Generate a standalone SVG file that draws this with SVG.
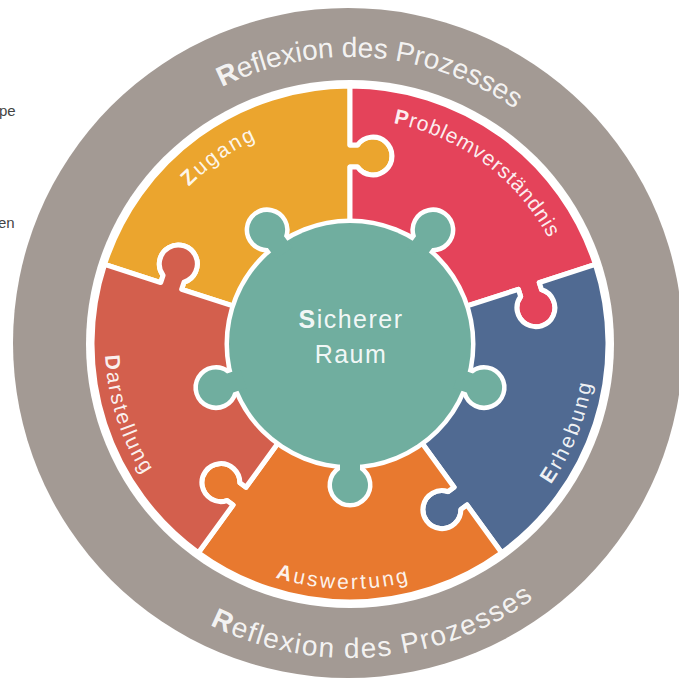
<svg xmlns="http://www.w3.org/2000/svg" xmlns:xlink="http://www.w3.org/1999/xlink" width="679" height="681" viewBox="0 0 679 681">
<style>
.piece{stroke:#fff;stroke-width:5;stroke-linejoin:round}
.lbl{font-family:"Liberation Sans",Arial,sans-serif;font-size:21px;fill:#fff;fill-opacity:0.92}
.refl{font-family:"Liberation Sans",Arial,sans-serif;font-size:28px;fill:#fff;fill-opacity:0.9}
.ctr{font-family:"Liberation Sans",Arial,sans-serif;font-size:25px;fill:#fff;fill-opacity:0.92;letter-spacing:1.5px}
.b{font-weight:bold}
.side{font-family:"Liberation Sans",Arial,sans-serif;font-size:15px;fill:#444}
</style>
<defs>
<path id="piece" d="M -151.65,-208.73 A 258 258 0 0 1 151.65,-208.73 L 116.97,-160.99 L 123.05,-156.58 A 19 19 0 1 1 110.12,-138.78 L 104.04,-143.20 L 67.60,-93.04 A 115 115 0 0 0 -67.60,-93.04 L -104.04,-143.20 L -97.96,-147.61 A 19 19 0 1 0 -110.89,-165.40 L -116.97,-160.99 Z"/>
<path id="tab" d="M -10,-112 L -10,-126.03 A 18 18 0 1 1 10,-126.03 L 10,-112 Z"/>
<path id="tR" d="M 63,344 A 287 287 0 0 1 637,344"/>
<path id="bR" d="M 36,344 A 314 314 0 0 0 664,344"/>
<path id="tL" d="M 125,344 A 225 225 0 0 1 575,344"/>
<path id="bL" d="M 119.78,260.21 A 245 245 0 1 0 580.22,260.21"/>
</defs>
<rect width="679" height="681" fill="#fff"/>
<g id="side-fragments">
<text class="side" x="-1" y="116">pe</text>
<text class="side" x="-2" y="228">en</text>
</g>
<g id="reflexion-ring">
<circle cx="348" cy="343" r="335" fill="#a39a94"/>
<circle cx="350" cy="344" r="264" fill="#fff"/>
<text class="refl"><textPath href="#tR" startOffset="472" text-anchor="middle"><tspan class="b">R</tspan>eflexion des Prozesses</textPath></text>
<text class="refl" letter-spacing="1.5"><textPath href="#bR" startOffset="519" text-anchor="middle"><tspan class="b">R</tspan>eflexion des Prozesses</textPath></text>
</g>
<g id="zugang">
<use href="#piece" class="piece" fill="#eba52e" transform="translate(350,344) rotate(-36)"/>
<text class="lbl" letter-spacing="2.2"><textPath href="#tL" startOffset="216" text-anchor="middle"><tspan class="b">Z</tspan>ugang</textPath></text>
</g>
<g id="problemverstaendnis">
<use href="#piece" class="piece" fill="#e4435a" transform="translate(350,344) rotate(36)"/>
<text class="lbl" letter-spacing="0.8"><textPath href="#tL" startOffset="497" text-anchor="middle"><tspan class="b">P</tspan>roblemverständnis</textPath></text>
</g>
<g id="erhebung">
<use href="#piece" class="piece" fill="#506a92" transform="translate(350,344) rotate(108)"/>
<text class="lbl" letter-spacing="2.6"><textPath href="#bL" startOffset="761" text-anchor="middle"><tspan class="b">E</tspan>rhebung</textPath></text>
</g>
<g id="auswertung">
<use href="#piece" class="piece" fill="#e8792f" transform="translate(350,344) rotate(180)"/>
<text class="lbl" letter-spacing="2.6"><textPath href="#bL" startOffset="463" text-anchor="middle"><tspan class="b">A</tspan>uswertung</textPath></text>
</g>
<g id="darstellung">
<use href="#piece" class="piece" fill="#d35f4d" transform="translate(350,344) rotate(252)"/>
<text class="lbl" letter-spacing="2"><textPath href="#bL" startOffset="161" text-anchor="middle"><tspan class="b">D</tspan>arstellung</textPath></text>
</g>
<g id="sicherer-raum">
<g fill="#fff" stroke="#fff" stroke-width="9" stroke-linejoin="round">
<circle cx="350" cy="344" r="121"/>
<use href="#tab" transform="translate(350,344) rotate(-36)"/>
<use href="#tab" transform="translate(350,344) rotate(36)"/>
<use href="#tab" transform="translate(350,344) rotate(108)"/>
<use href="#tab" transform="translate(350,344) rotate(180)"/>
<use href="#tab" transform="translate(350,344) rotate(252)"/>
</g>
<g fill="#70ae9f">
<circle cx="350" cy="344" r="121"/>
<use href="#tab" transform="translate(350,344) rotate(-36)"/>
<use href="#tab" transform="translate(350,344) rotate(36)"/>
<use href="#tab" transform="translate(350,344) rotate(108)"/>
<use href="#tab" transform="translate(350,344) rotate(180)"/>
<use href="#tab" transform="translate(350,344) rotate(252)"/>
</g>
<text class="ctr" x="351" y="328" text-anchor="middle"><tspan class="b">S</tspan>icherer</text>
<text class="ctr" x="351" y="363" text-anchor="middle">Raum</text>
</g>
</svg>
